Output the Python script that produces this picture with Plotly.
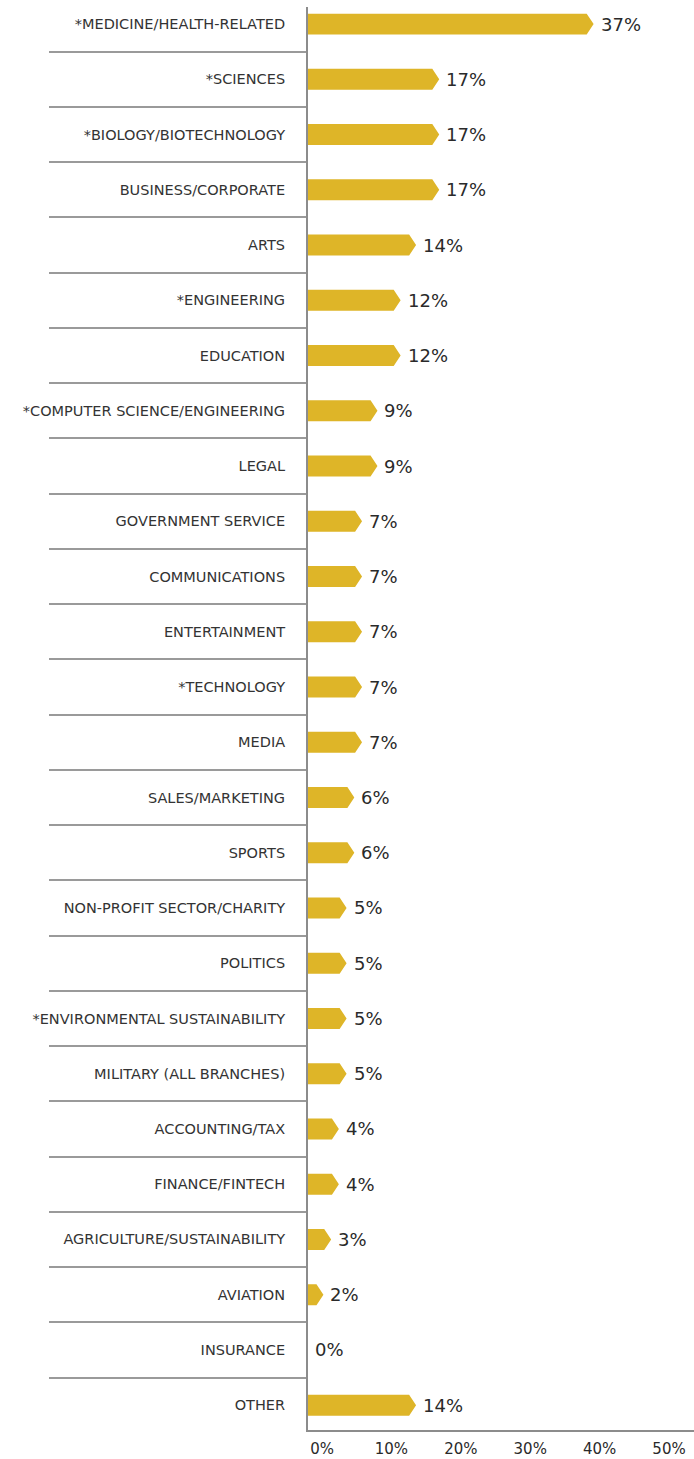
import plotly.graph_objects as go

# Career fields of interest (share of respondents, %)
categories = [
    "*MEDICINE/HEALTH-RELATED", "*SCIENCES", "*BIOLOGY/BIOTECHNOLOGY",
    "BUSINESS/CORPORATE", "ARTS", "*ENGINEERING", "EDUCATION",
    "*COMPUTER SCIENCE/ENGINEERING", "LEGAL", "GOVERNMENT SERVICE",
    "COMMUNICATIONS", "ENTERTAINMENT", "*TECHNOLOGY", "MEDIA",
    "SALES/MARKETING", "SPORTS", "NON-PROFIT SECTOR/CHARITY", "POLITICS",
    "*ENVIRONMENTAL SUSTAINABILITY", "MILITARY (ALL BRANCHES)",
    "ACCOUNTING/TAX", "FINANCE/FINTECH", "AGRICULTURE/SUSTAINABILITY",
    "AVIATION", "INSURANCE", "OTHER",
]
values = [37, 17, 17, 17, 14, 12, 12, 9, 9, 7, 7, 7, 7, 7, 6, 6, 5, 5, 5, 5,
          4, 4, 3, 2, 0, 14]
tick_values = [0, 10, 20, 30, 40, 50]
tick_labels = ["0%", "10%", "20%", "30%", "40%", "50%"]

BAR_COLOR = "#DEB528"
AXIS_COLOR = "#8C8C8C"
TEXT_COLOR = "#2A2A2A"
FONT = "DejaVu Sans"

HALF_H = 0.19   # half bar thickness in row units
TIP = 0.9       # depth of the arrow point in value units

# Arrow-shaped bars built as polygons in data space
xs, ys = [], []
for i, v in enumerate(values):
    if v <= 0:
        continue
    body = max(v - TIP, 0)
    xs += [0, body, v, body, 0, 0, None]
    ys += [i - HALF_H, i - HALF_H, i, i + HALF_H, i + HALF_H, i - HALF_H, None]

fig = go.Figure()
fig.add_trace(go.Scatter(
    x=xs, y=ys, mode="lines", fill="toself", fillcolor=BAR_COLOR,
    line=dict(width=0, color=BAR_COLOR), hoverinfo="skip", showlegend=False,
))

# Invisible helper trace so the secondary axis renders its labels
fig.add_trace(go.Scatter(
    x=tick_values, y=[0] * len(tick_values), xaxis="x2", mode="markers",
    marker=dict(opacity=0), hoverinfo="skip", showlegend=False,
))

annotations = []
for i, v in enumerate(values):
    annotations.append(dict(
        x=v, y=i, xref="x", yref="y", text=f"{v}%", showarrow=False,
        xanchor="left", yanchor="middle", xshift=5,
        font=dict(family=FONT, size=18, color=TEXT_COLOR),
    ))

fig.update_layout(
    width=694, height=1459,
    margin=dict(l=308, r=0, t=7, b=29),
    paper_bgcolor="white", plot_bgcolor="white",
    annotations=annotations,
    xaxis=dict(
        range=[0, 50], showgrid=False, zeroline=False,
        showline=True, linecolor=AXIS_COLOR, linewidth=2,
        showticklabels=False, ticks="", fixedrange=True,
    ),
    xaxis2=dict(
        overlaying="x", side="bottom", anchor="y",
        range=[-2.02, 53.6], showgrid=False, zeroline=False, showline=False,
        tickvals=tick_values, ticktext=tick_labels, ticks="",
        ticklabelstandoff=8,
        tickfont=dict(family=FONT, size=15, color=TEXT_COLOR),
        automargin=False,
    ),
    yaxis=dict(
        range=[25.45, -0.31], autorange=False,
        tickvals=list(range(len(categories))), ticktext=categories,
        showgrid=False, zeroline=False,
        showline=True, linecolor=AXIS_COLOR, linewidth=2,
        ticks="", ticklabelstandoff=18,
        tickfont=dict(family=FONT, size=14.5, color="#333333"),
        minor=dict(tick0=0.5, dtick=1, ticks="outside", ticklen=257,
                   tickcolor="#9A9A9A", tickwidth=1.5),
        automargin=False, fixedrange=True,
    ),
)

fig.write_html("out.html")
